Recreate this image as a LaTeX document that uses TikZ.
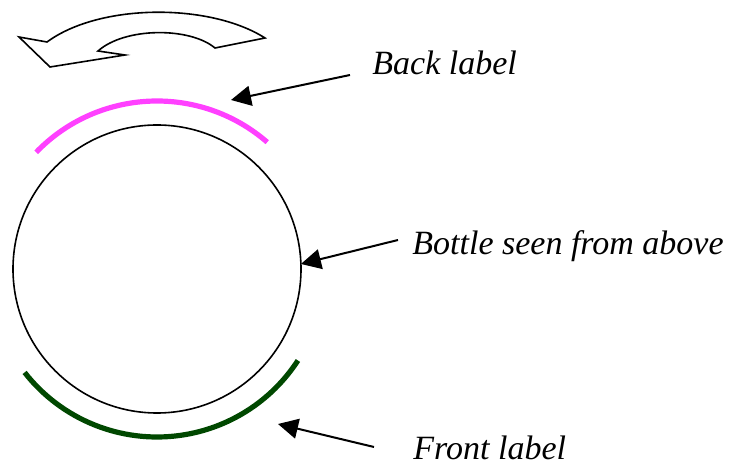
\documentclass[tikz,border=0pt]{standalone}
\usepackage{fontspec}
\setmainfont{Liberation Serif}
\usepackage{tikz}
\usetikzlibrary{arrows.meta}
\definecolor{backpink}{RGB}{255,64,255}
\definecolor{frontgreen}{RGB}{0,72,0}

\begin{document}
\begin{tikzpicture}[x=0.5pt, y=-0.5pt,
        caption/.style={anchor=base west, inner sep=0pt, font=\fontsize{17}{20}\selectfont\itshape},
        pointer/.style={line width=1pt, -{Triangle[length=10pt, width=10pt]}},
        labelarc/.style={line width=2.6pt}]
        \useasboundingbox (0,0) rectangle (730,470);
        \node[draw, circle, line width=0.8pt, minimum size=144pt, inner sep=0pt, outer sep=0pt] (bottle) at (157,269) {};
        \draw[labelarc, backpink] ([shift={(136:84pt)}]bottle.center) arc[start angle=136, end angle=49, radius=84pt];
        \draw[labelarc, frontgreen] ([shift={(218:84pt)}]bottle.center) arc[start angle=218, end angle=327, radius=84pt];
        % turning arrow
        \draw[line width=0.8pt] (19,37) -- (47,42) .. controls (100,3) and (210,3) .. (265,38) -- (215,48)
            .. controls (190,27) and (125,27) .. (98,51) -- (125,55) -- (50,67) -- cycle;
        \node[caption] (backtext) at (372,75) {Back label};
        \node[caption] (bottletext) at (412,255) {Bottle seen from above};
        \node[caption] (fronttext) at (413,460) {Front label};
        \coordinate (backtail) at ([xshift=-11pt]backtext.base west);
        \coordinate (bottletail) at ([xshift=-7pt, yshift=7.5pt]bottletext.base west);
        \coordinate (fronttail) at ([xshift=-19.5pt, yshift=6.5pt]fronttext.base west);
        \coordinate (backtip) at (231,100);
        \coordinate (fronttip) at (278,424);
        \draw[pointer] (backtail) -- (backtip);
        \draw[pointer] (bottletail) -- (bottle.2);
        \draw[pointer] (fronttail) -- (fronttip);
\end{tikzpicture}
\end{document}
